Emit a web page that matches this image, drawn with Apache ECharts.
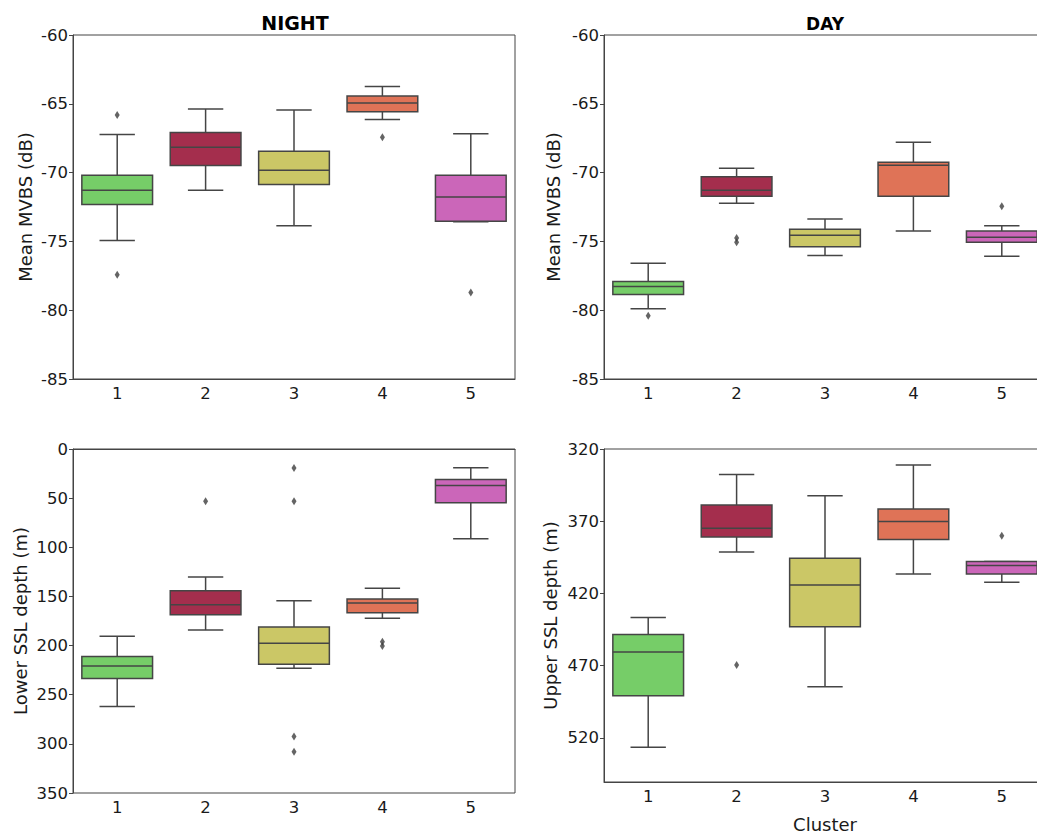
<!DOCTYPE html>
<html>
<head>
<meta charset="utf-8">
<script src="https://cdn.jsdelivr.net/npm/echarts@6/dist/echarts.min.js"></script>
<style>
  html, body { margin: 0; padding: 0; background: #fff; overflow: hidden; }
  #chart { width: 1060px; height: 834px; }
</style>
</head>
<body>
<div id="chart"></div>
<script>
const clusters = ['1', '2', '3', '4', '5']
const clusterColors = ['#76cd68', '#a42e4d', '#cbc766', '#df7357', '#cb66b9']

// each box: [lower whisker, Q1, median, Q3, upper whisker]
const nightMvbs = [
  [-74.94, -72.32, -71.28, -70.19, -67.24],
  [-71.28, -69.49, -68.16, -67.09, -65.38],
  [-73.87, -70.87, -69.83, -68.45, -65.45],
  [-66.15, -65.57, -64.94, -64.43, -63.75],
  [-73.58, -73.54, -71.77, -70.19, -67.17]
]
const nightMvbsOutliers = [[0, -65.81], [0, -77.43], [3, -67.43], [4, -78.72]]

const dayMvbs = [
  [-79.90, -78.86, -78.28, -77.92, -76.59],
  [-72.23, -71.72, -71.28, -70.31, -69.69],
  [-76.03, -75.38, -74.55, -74.12, -73.37],
  [-74.24, -71.72, -69.47, -69.25, -67.80],
  [-76.08, -75.06, -74.70, -74.24, -73.87]
]
const dayMvbsOutliers = [[0, -80.41], [1, -74.75], [1, -75.06], [4, -72.45]]

const nightDepth = [
  [190.6, 211.2, 220.7, 233.6, 262.0],
  [130.3, 144.2, 158.4, 168.6, 184.2],
  [154.4, 181.1, 197.7, 219.0, 223.1],
  [141.8, 152.7, 156.7, 166.6, 172.3],
  [19.0, 31.1, 37.2, 54.8, 91.4]
]
const nightDepthOutliers = [[1, 53.1], [2, 19.3], [2, 53.1], [2, 292.5], [2, 308.1], [3, 196.0], [3, 200.4]]

const dayDepth = [
  [436.6, 448.4, 460.5, 490.8, 526.5],
  [337.6, 358.8, 374.8, 380.9, 391.3],
  [352.3, 395.6, 414.1, 443.1, 484.5],
  [331.1, 361.5, 370.2, 382.7, 406.5],
  [397.8, 397.8, 400.7, 406.5, 412.3]
]
const dayDepthOutliers = [[1, 469.6], [4, 380.0]]

const mvbsTicks = [-85, -80, -75, -70, -65, -60]
const nightDepthTicks = [0, 50, 100, 150, 200, 250, 300, 350]
const dayDepthTicks = [320, 370, 420, 470, 520]

const FONT = 'DejaVu Sans'
const LINE = '#454545'
const TEXT = '#1a1a1a'

const chart = echarts.init(document.getElementById('chart'), null, { renderer: 'svg' })

function renderBox(params, api) {
  const c = api.value(0)
  const band = api.size([1, 0])[0]
  const bw = band * 0.8
  const cw = band * 0.4
  const p = [1, 2, 3, 4, 5].map(i => api.coord([c, api.value(i)]))
  const x = p[0][0]
  const yQ1 = p[1][1], yQ3 = p[3][1]
  const top = Math.min(yQ1, yQ3)
  const h = Math.abs(yQ1 - yQ3)
  const ls = { stroke: LINE, lineWidth: 1.5 }
  return {
    type: 'group',
    children: [
      { type: 'line', shape: { x1: x, y1: p[0][1], x2: x, y2: yQ1 }, style: ls },
      { type: 'line', shape: { x1: x, y1: p[4][1], x2: x, y2: yQ3 }, style: ls },
      { type: 'line', shape: { x1: x - cw / 2, y1: p[0][1], x2: x + cw / 2, y2: p[0][1] }, style: ls },
      { type: 'line', shape: { x1: x - cw / 2, y1: p[4][1], x2: x + cw / 2, y2: p[4][1] }, style: ls },
      { type: 'rect', shape: { x: x - bw / 2, y: top, width: bw, height: h },
        style: { fill: clusterColors[c], stroke: LINE, lineWidth: 1.5 } },
      { type: 'line', shape: { x1: x - bw / 2, y1: p[2][1], x2: x + bw / 2, y2: p[2][1] }, style: ls }
    ]
  }
}

const panels = [
  { left: 73, top: 35, boxes: nightMvbs, outliers: nightMvbsOutliers, min: -85, max: -60, ticks: mvbsTicks,
    inverse: false, name: 'Mean MVBS (dB)', gap: 39 },
  { left: 604, top: 35, boxes: dayMvbs, outliers: dayMvbsOutliers, min: -85, max: -60, ticks: mvbsTicks,
    inverse: false, name: 'Mean MVBS (dB)', gap: 42 },
  { left: 73, top: 449, boxes: nightDepth, outliers: nightDepthOutliers, min: 0, max: 350, ticks: nightDepthTicks,
    inverse: true, name: 'Lower SSL depth (m)', gap: 44 },
  { left: 604, top: 449, boxes: dayDepth, outliers: dayDepthOutliers, min: 320, max: 550.5, ticks: dayDepthTicks,
    inverse: true, name: 'Upper SSL depth (m)', gap: 45, xName: 'Cluster' }
]

const option = {
  backgroundColor: '#fff',
  animation: false,
  grid: panels.map(p => ({
    left: p.left, top: p.top, width: 442, height: 344,
    show: true, borderColor: LINE, borderWidth: 1, backgroundColor: 'transparent'
  })),
  xAxis: panels.map((p, i) => ({
    type: 'category',
    gridIndex: i,
    data: clusters,
    name: p.xName || '',
    nameLocation: 'middle',
    nameGap: 33,
    nameTextStyle: { fontFamily: FONT, fontSize: 18, color: TEXT },
    axisLine: { lineStyle: { color: LINE, width: 1 } },
    axisTick: { alignWithLabel: true, length: 4, lineStyle: { color: LINE } },
    axisLabel: { fontFamily: FONT, fontSize: 16.5, color: TEXT, margin: 6 },
    splitLine: { show: false }
  })),
  yAxis: panels.map((p, i) => ({
    type: 'value',
    gridIndex: i,
    min: p.min,
    max: p.max,
    inverse: p.inverse,
    name: p.name,
    nameLocation: 'middle',
    nameGap: p.gap,
    nameTextStyle: { fontFamily: FONT, fontSize: 18, color: TEXT },
    axisLine: { show: true, lineStyle: { color: LINE, width: 1 } },
    axisTick: { show: true, length: 4, customValues: p.ticks, lineStyle: { color: LINE } },
    axisLabel: { fontFamily: FONT, fontSize: 16.5, color: TEXT, margin: 5, customValues: p.ticks },
    splitLine: { show: false }
  })),
  graphic: [
    { type: 'text', x: 295, y: 23, style: { text: 'NIGHT', font: 'bold 19px "DejaVu Sans"', fill: '#000',
      textAlign: 'center', textVerticalAlign: 'middle' } },
    { type: 'text', x: 825, y: 24, style: { text: 'DAY', font: 'bold 17px "DejaVu Sans"', fill: '#000',
      textAlign: 'center', textVerticalAlign: 'middle' } }
  ],
  series: panels.flatMap((p, i) => [
    {
      type: 'custom',
      xAxisIndex: i,
      yAxisIndex: i,
      renderItem: renderBox,
      encode: { x: 0, y: [1, 2, 3, 4, 5] },
      data: p.boxes.map((b, c) => [c].concat(b)),
      clip: false
    },
    {
      type: 'scatter',
      xAxisIndex: i,
      yAxisIndex: i,
      symbol: 'diamond',
      symbolSize: [5, 8],
      itemStyle: { color: '#3d3d3d' },
      data: p.outliers
    }
  ])
}

chart.setOption(option)
</script>
</body>
</html>
